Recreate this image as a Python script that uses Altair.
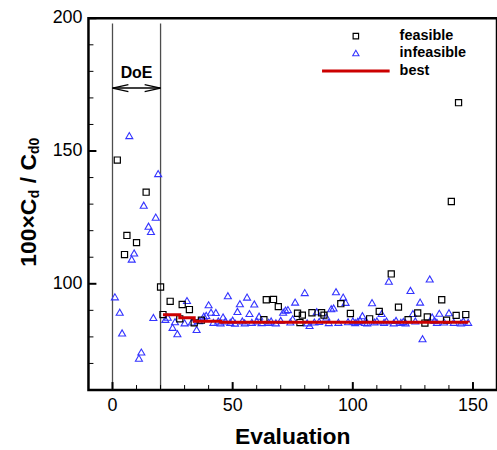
import altair as alt
import pandas as pd

# ---------------- data ----------------
feas_x = [2, 5, 6, 10, 14, 20, 21, 24, 28, 29, 32, 34, 37, 63, 64, 67, 69, 77, 78, 79,
          83, 87, 88, 95, 99, 107, 111, 116, 119, 123, 127, 130, 131, 137, 139, 141, 143, 144, 147]
feas_y = [146.6, 111.0, 118.2, 115.5, 134.5, 98.8, 88.4, 93.4, 86.8, 92.2, 90.3, 85.3, 86.3, 86.5, 94.0, 94.1, 91.4, 88.9, 85.4, 88.2,
          89.1, 89.1, 88.2, 92.5, 88.8, 86.8, 89.6, 103.7, 91.2, 86.5, 89.0, 85.2, 87.5, 94.0, 86.3, 131.0, 88.1, 168.2, 88.4]

infeas_x = [1, 3, 4, 7, 8, 9, 11, 12, 13, 15, 16, 17, 18, 19,
            22, 23, 25, 26, 27, 30, 31, 33, 35, 36, 38, 39, 40, 41, 42, 43, 44, 45, 46, 47,
            48, 49, 50, 51, 52, 53, 54, 55, 56, 57, 58, 59, 60, 61, 62, 65, 66, 68, 70, 71,
            72, 73, 74, 75, 76, 80, 81, 82, 84, 85, 86, 89, 90, 91, 92, 93, 94, 96, 97, 98,
            100, 101, 102, 103, 104, 105, 106, 108, 109, 110, 112, 113, 114, 115, 117, 118, 120, 121, 122, 124,
            125, 126, 128, 129, 132, 133, 134, 135, 136, 138, 140, 142, 145, 146, 148]
infeas_y = [95.1, 89.3, 81.5, 155.8, 109.3, 111.6, 72.0, 74.3, 129.6, 121.7, 119.7, 87.3, 125.1, 141.5,
            86.6, 87.4, 83.6, 85.7, 81.2, 85.3, 93.7, 85.6, 82.8, 86.1, 87.8, 88.1, 92.1, 89.3, 85.5, 89.2, 86.0, 85.3, 87.5, 86.0,
            95.5, 85.5, 86.3, 85.2, 89.6, 92.5, 86.0, 85.3, 95.0, 88.8, 85.5, 92.4, 86.0, 87.8, 85.4, 85.5, 86.0, 85.3, 86.2, 89.3,
            90.1, 90.3, 85.6, 86.8, 93.1, 96.7, 85.3, 84.3, 85.6, 89.5, 85.8, 87.5, 85.4, 90.6, 90.9, 97.0, 85.5, 95.0, 93.0, 85.7,
            86.0, 85.4, 85.8, 86.3, 88.0, 85.5, 85.3, 92.9, 85.6, 86.0, 88.8, 85.5, 86.0, 101.0, 85.3, 86.2, 85.5, 85.8, 85.3, 97.5,
            88.8, 86.0, 93.1, 79.3, 101.8, 87.5, 86.2, 85.5, 88.9, 85.6, 89.1, 85.5, 85.3, 86.0, 85.5]

best_x = [21, 28, 34, 45, 148]
best_y = [88.3, 87.2, 85.9, 85.5, 85.4]

doe_x = [0, 20]
doe_y_bottom = 60
doe_y_top = 198
doe_arrow_y = 173.7
doe_label = "DoE"
doe_label_x = 10
doe_label_y = 179.5

x_domain = [-10, 160]
y_domain = [60, 200]
x_major = [0, 50, 100, 150]
x_minor = [-10, 10, 20, 30, 40, 60, 70, 80, 90, 110, 120, 130, 140, 160]
y_major = [100, 150, 200]
y_minor = [60, 70, 80, 90, 110, 120, 130, 140, 160, 170, 180, 190]

legend_labels = ["feasible", "infeasible", "best"]
x_title = "Evaluation"
y_title_parts = ["100×C", "d", "/ C", "d0"]

# ---------------- styling ----------------
FONT = "Liberation Sans"
BLUE = "#3434ff"
RED = "#cc0000"
W, H = 411, 374

feas = pd.DataFrame({"x": feas_x, "y": feas_y})
infeas = pd.DataFrame({"x": infeas_x, "y": infeas_y})
best = pd.DataFrame({"x": best_x, "y": best_y})
doe = pd.DataFrame({"x": doe_x, "y": [doe_y_bottom] * 2, "y2": [doe_y_top] * 2})
arrow = pd.DataFrame({"x": [doe_x[0]], "x2": [doe_x[1]], "y": [doe_arrow_y]})
arrow_l = pd.DataFrame({"x": [doe_x[0]], "y": [doe_arrow_y]})
arrow_r = pd.DataFrame({"x": [doe_x[1]], "y": [doe_arrow_y]})
doe_txt = pd.DataFrame({"x": [doe_label_x], "y": [doe_label_y], "t": [doe_label]})

xs = alt.Scale(domain=x_domain, nice=False, zero=False)
ys = alt.Scale(domain=y_domain, nice=False, zero=False)


def X(f="x"):
    return alt.X(f"{f}:Q", scale=xs, axis=None)


def Y(f="y"):
    return alt.Y(f"{f}:Q", scale=ys, axis=None)


# inward ticks drawn as line-shaped point symbols anchored on the frame
# (symbol path is scaled by sqrt(size)/2, so size 64 -> 8 px, size 25 -> 5 px)
def xticks(vals, size, width):
    df = pd.DataFrame({"x": vals, "y": [y_domain[0]] * len(vals)})
    return alt.Chart(df).mark_point(shape="M0,0L0,-2", filled=False, color="black",
                                    size=size, strokeWidth=width, opacity=1).encode(x=X(), y=Y())


def yticks(vals, size, width):
    df = pd.DataFrame({"y": vals, "x": [x_domain[0]] * len(vals)})
    return alt.Chart(df).mark_point(shape="M0,0L2,0", filled=False, color="black",
                                    size=size, strokeWidth=width, opacity=1).encode(x=X(), y=Y())


tick_layers = [xticks(x_major, 64, 2), xticks(x_minor, 25, 1),
               yticks(y_major, 64, 2), yticks(y_minor, 25, 1)]

# tick labels and x title
xlab = alt.Chart(pd.DataFrame({"v": x_major})).mark_text(
    font=FONT, fontSize=18, color="black", align="center", baseline="top").encode(
    x=X("v"), y=alt.value(H + 7), text=alt.Text("v:Q", format="d"))
ylab = alt.Chart(pd.DataFrame({"w": y_major})).mark_text(
    font=FONT, fontSize=18, color="black", align="right", baseline="middle").encode(
    y=Y("w"), x=alt.value(-6), text=alt.Text("w:Q", format="d"))
xtitle = alt.Chart(pd.DataFrame({"t": [x_title]})).mark_text(
    font=FONT, fontSize=23, fontWeight="bold", color="black", align="center",
    baseline="alphabetic").encode(x=alt.value(W / 2), y=alt.value(428), text="t:N")

squares = alt.Chart(feas).mark_point(shape="square", filled=False, color="black",
                                     size=38, strokeWidth=1.2, opacity=1).encode(x=X(), y=Y())
triangles = alt.Chart(infeas).mark_point(shape="triangle-up", filled=False, color=BLUE,
                                         size=50, strokeWidth=1.1, opacity=1).encode(x=X(), y=Y())
best_line = alt.Chart(best).mark_line(color=RED, strokeWidth=3,
                                      interpolate="step-after").encode(x=X(), y=Y())
doe_rules = alt.Chart(doe).mark_rule(color="#4d4d4d", strokeWidth=1.3).encode(
    x=X(), y=Y(), y2="y2:Q")
arrow_rule = alt.Chart(arrow).mark_rule(color="black", strokeWidth=1.5).encode(
    x=X(), x2="x2:Q", y=Y())
head_l = alt.Chart(arrow_l).mark_point(shape="M2,-0.44L0,0L2,0.44", filled=False, color="black",
                                       size=256, strokeWidth=1.2, opacity=1).encode(x=X(), y=Y())
head_r = alt.Chart(arrow_r).mark_point(shape="M-2,-0.44L0,0L-2,0.44", filled=False, color="black",
                                       size=256, strokeWidth=1.2, opacity=1).encode(x=X(), y=Y())
doe_text = alt.Chart(doe_txt).mark_text(font=FONT, fontSize=16, fontWeight="bold",
                                        color="black", baseline="middle", align="center").encode(
    x=X(), y=Y(), text="t:N")

# manual legend (pixel layout)
leg_sq = alt.Chart(pd.DataFrame({"l": [legend_labels[0]]})).mark_point(
    shape="square", filled=False, color="black", size=30, strokeWidth=1.2, opacity=1).encode(
    x=alt.value(269), y=alt.value(18))
leg_tr = alt.Chart(pd.DataFrame({"l": [legend_labels[1]]})).mark_point(
    shape="triangle-up", filled=False, color=BLUE, size=40, strokeWidth=1.1, opacity=1).encode(
    x=alt.value(269), y=alt.value(35))
leg_ln = alt.Chart(pd.DataFrame({"l": [legend_labels[2]]})).mark_rule(
    color=RED, strokeWidth=3).encode(x=alt.value(235), x2=alt.value(303), y=alt.value(53))
leg_text = []
for lab, yy in zip(legend_labels, [18, 35, 53]):
    leg_text.append(
        alt.Chart(pd.DataFrame({"l": [lab]})).mark_text(
            font=FONT, fontSize=14.5, fontWeight="bold", color="black",
            align="left", baseline="middle").encode(
            x=alt.value(313), y=alt.value(yy), text="l:N"))

# y title with subscripts (rotated pieces)
title_specs = [(-53, 250, 23), (-49.5, 181, 14), (-53, 166, 23), (-49.5, 136.6, 14)]
ytitle = []
for part, (tx, ty, fs) in zip(y_title_parts, title_specs):
    ytitle.append(
        alt.Chart(pd.DataFrame({"t": [part]})).mark_text(
            font=FONT, fontSize=fs, fontWeight="bold", color="black", angle=270,
            align="left", baseline="alphabetic").encode(
            x=alt.value(tx), y=alt.value(ty), text="t:N"))

chart = alt.layer(
    doe_rules, arrow_rule, head_l, head_r, doe_text,
    triangles, squares, best_line,
    *tick_layers, xlab, ylab, xtitle,
    leg_sq, leg_tr, leg_ln, *leg_text, *ytitle,
).properties(
    width=W, height=H,
    autosize=alt.AutoSizeParams(type="none"),
    padding={"left": 89, "top": 17, "right": 0, "bottom": 59},
    background="white",
).configure_view(stroke="black", strokeWidth=2.5)

chart.save("out.html", embed_options={"renderer": "svg", "actions": False})
